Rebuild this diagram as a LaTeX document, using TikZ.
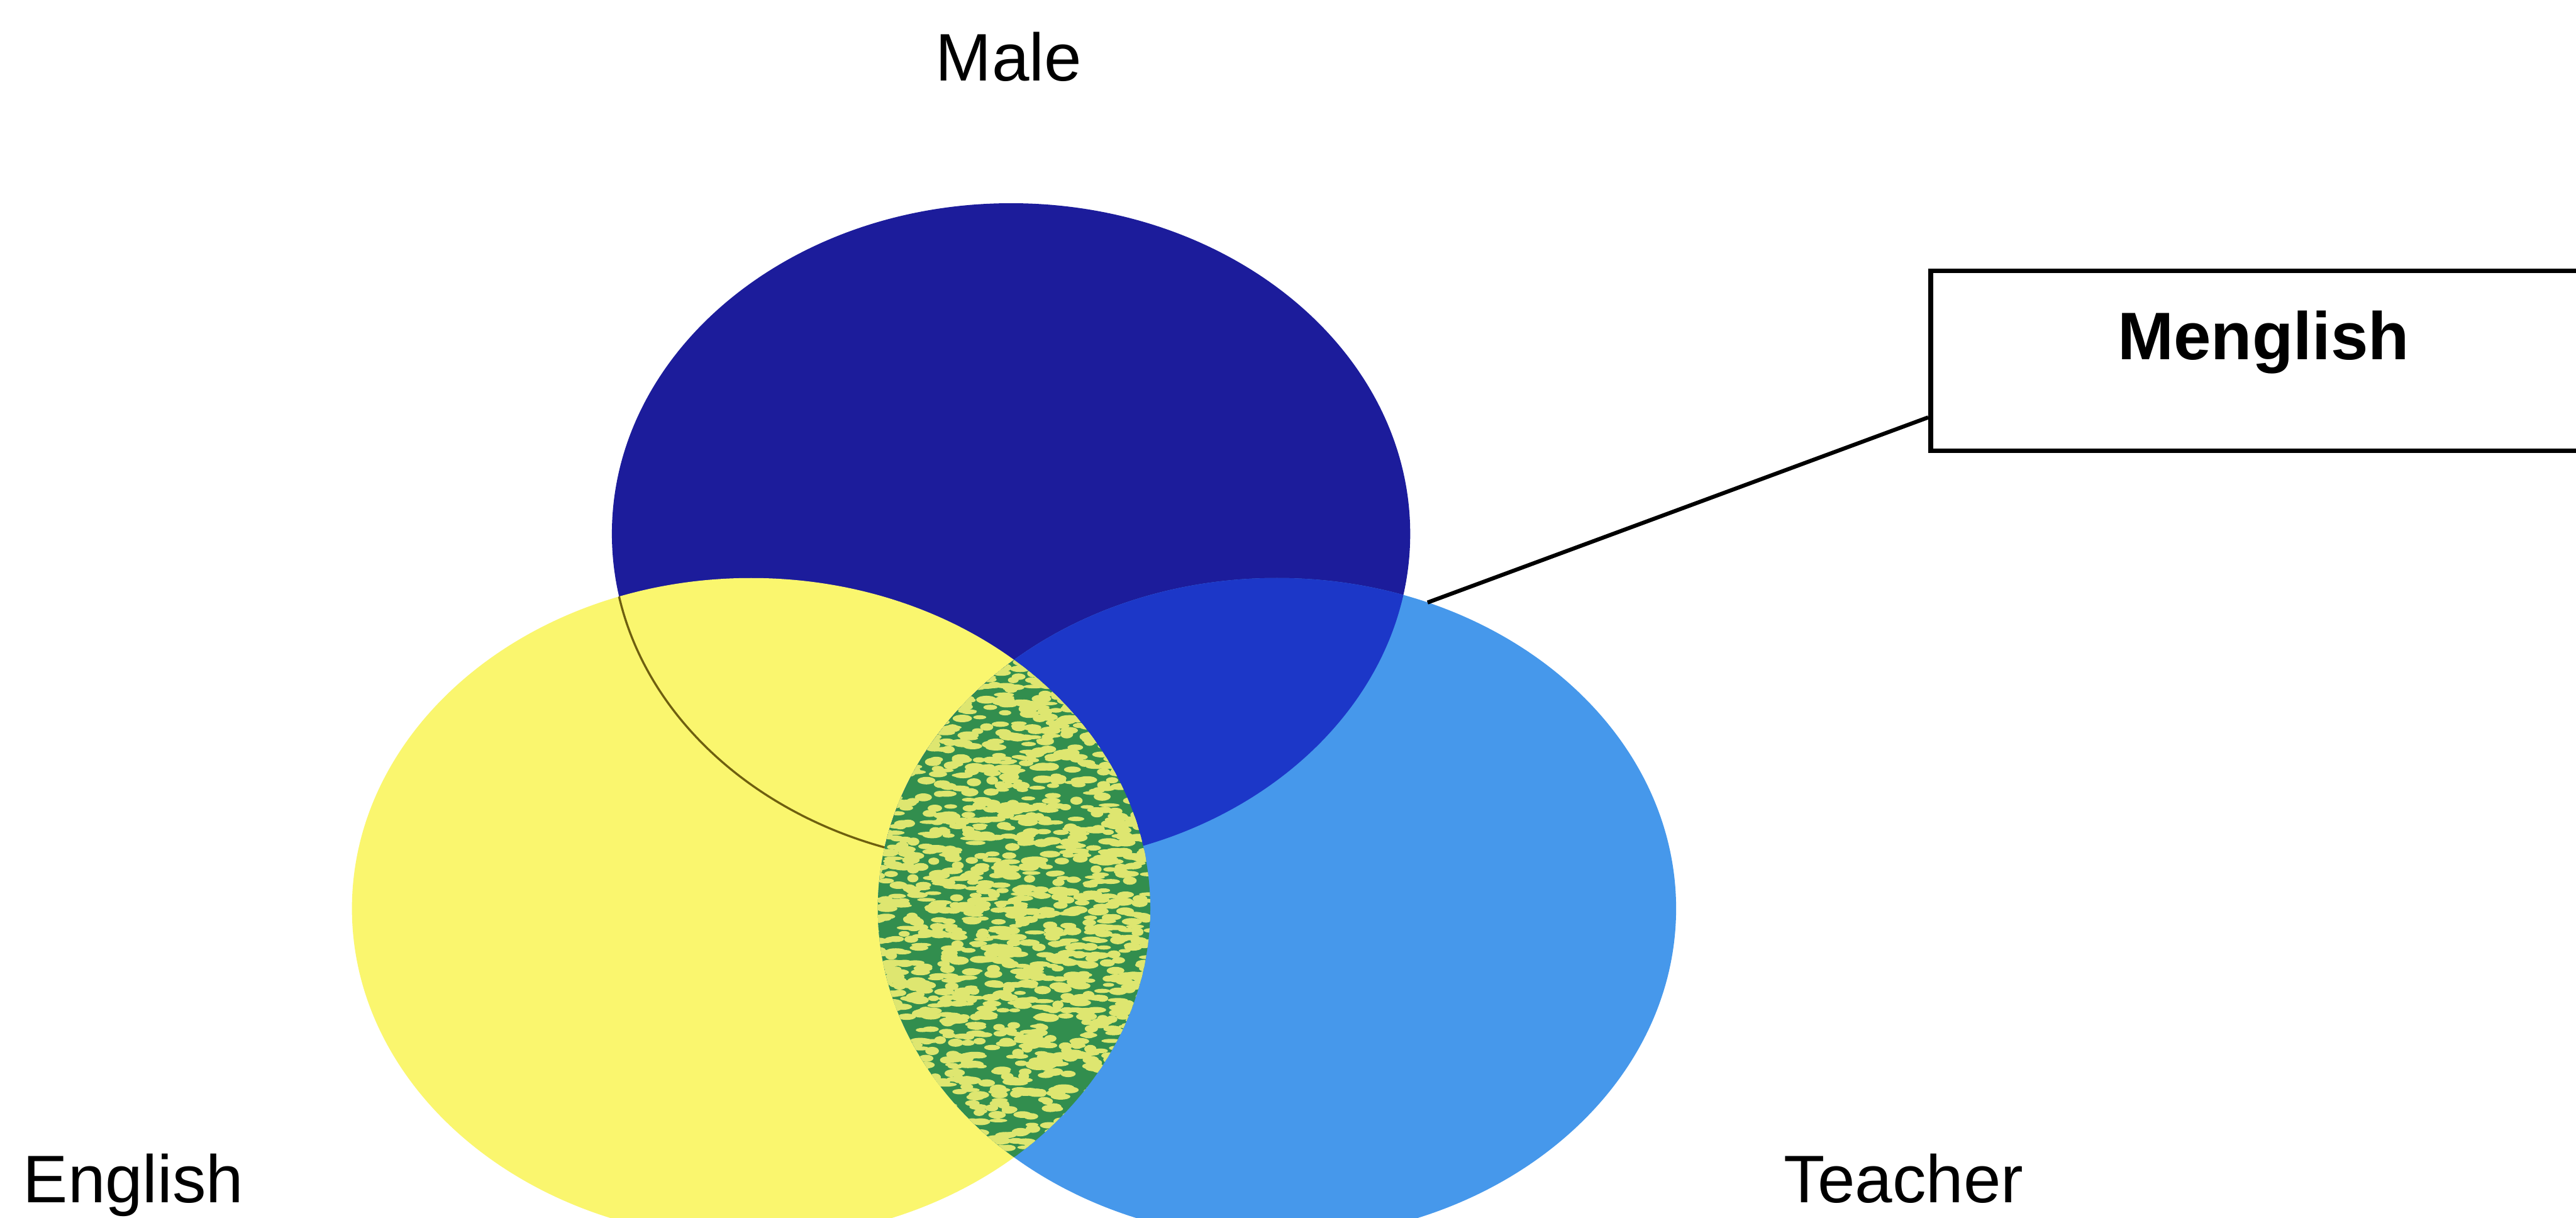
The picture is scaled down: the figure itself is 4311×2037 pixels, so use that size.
\documentclass[tikz,border=0pt]{standalone}
\usepackage{fontspec}
\setmainfont{Liberation Sans}
\definecolor{maleblue}{RGB}{28,28,155}
\definecolor{overblue}{RGB}{28,55,200}
\definecolor{teachblue}{RGB}{70,152,235}
\definecolor{engyellow}{RGB}{250,246,110}
\definecolor{lensgreen}{RGB}{50,142,78}
\definecolor{speckyellow}{RGB}{222,230,112}
\definecolor{arcolive}{RGB}{110,95,15}
\begin{document}
\begin{tikzpicture}[x=0.01cm,y=0.01cm,
  lbl/.style={font=\fontsize{32}{36}\selectfont, inner sep=0pt},
  boxstyle/.style={draw=black, line width=2.3pt, rectangle, inner sep=0pt},
  link/.style={draw=black, line width=1.9pt},
  oval/.style={x radius=668, y radius=553}]
\useasboundingbox (0,0) rectangle (4311,2037);
\fill[white] (0,0) rectangle (4311,2037);
\coordinate (cm) at (1692,1144);
\coordinate (ce) at (1257,517);
\coordinate (ct) at (2137,517);
% Male
\fill[maleblue] (cm) ellipse [oval];
% English
\fill[engyellow] (ce) ellipse [oval];
\begin{scope}
  \clip (ce) ellipse [oval];
  \draw[arcolive, line width=1pt] (cm) ellipse [oval];
\end{scope}
% Teacher
\fill[teachblue] (ct) ellipse [oval];
\begin{scope}
  \clip (ct) ellipse [oval];
  \fill[overblue] (cm) ellipse [oval];
\end{scope}
% English & Teacher lens
\begin{scope}
  \clip (ce) ellipse [oval];
  \clip (ct) ellipse [oval];
  \fill[lensgreen] (1400,0) rectangle (2000,1000);
  \pgfmathsetseed{12}
  \foreach \i in {1,...,1700}{
    \pgfmathsetmacro\px{1697+235*rand}
    \pgfmathsetmacro\py{517+420*rand}
    \pgfmathsetmacro\sa{9+9*rnd}
    \pgfmathsetmacro\sb{3+4*rnd}
    \fill[speckyellow] (\px,\py) ellipse [x radius=\sa, y radius=\sb];
  }
\end{scope}
% labels
\node[lbl, anchor=base] (male) at (1688,1902) {Male};
\node[lbl, anchor=base west] (eng) at (38,25) {English};
\node[lbl, anchor=base] (teach) at (3186,25) {Teacher};
\node[boxstyle, anchor=north west, minimum width=11.2cm, minimum height=3.01cm] (mbox) at (3227,1588) {};
\node[lbl, font=\fontsize{32}{36}\selectfont\bfseries, anchor=base] (mtext) at (3788,1435) {Menglish};
\coordinate (tip) at (2389,1029);
\draw[link] ([yshift=0.6cm]mbox.south west) -- (tip);
\end{tikzpicture}
\end{document}
